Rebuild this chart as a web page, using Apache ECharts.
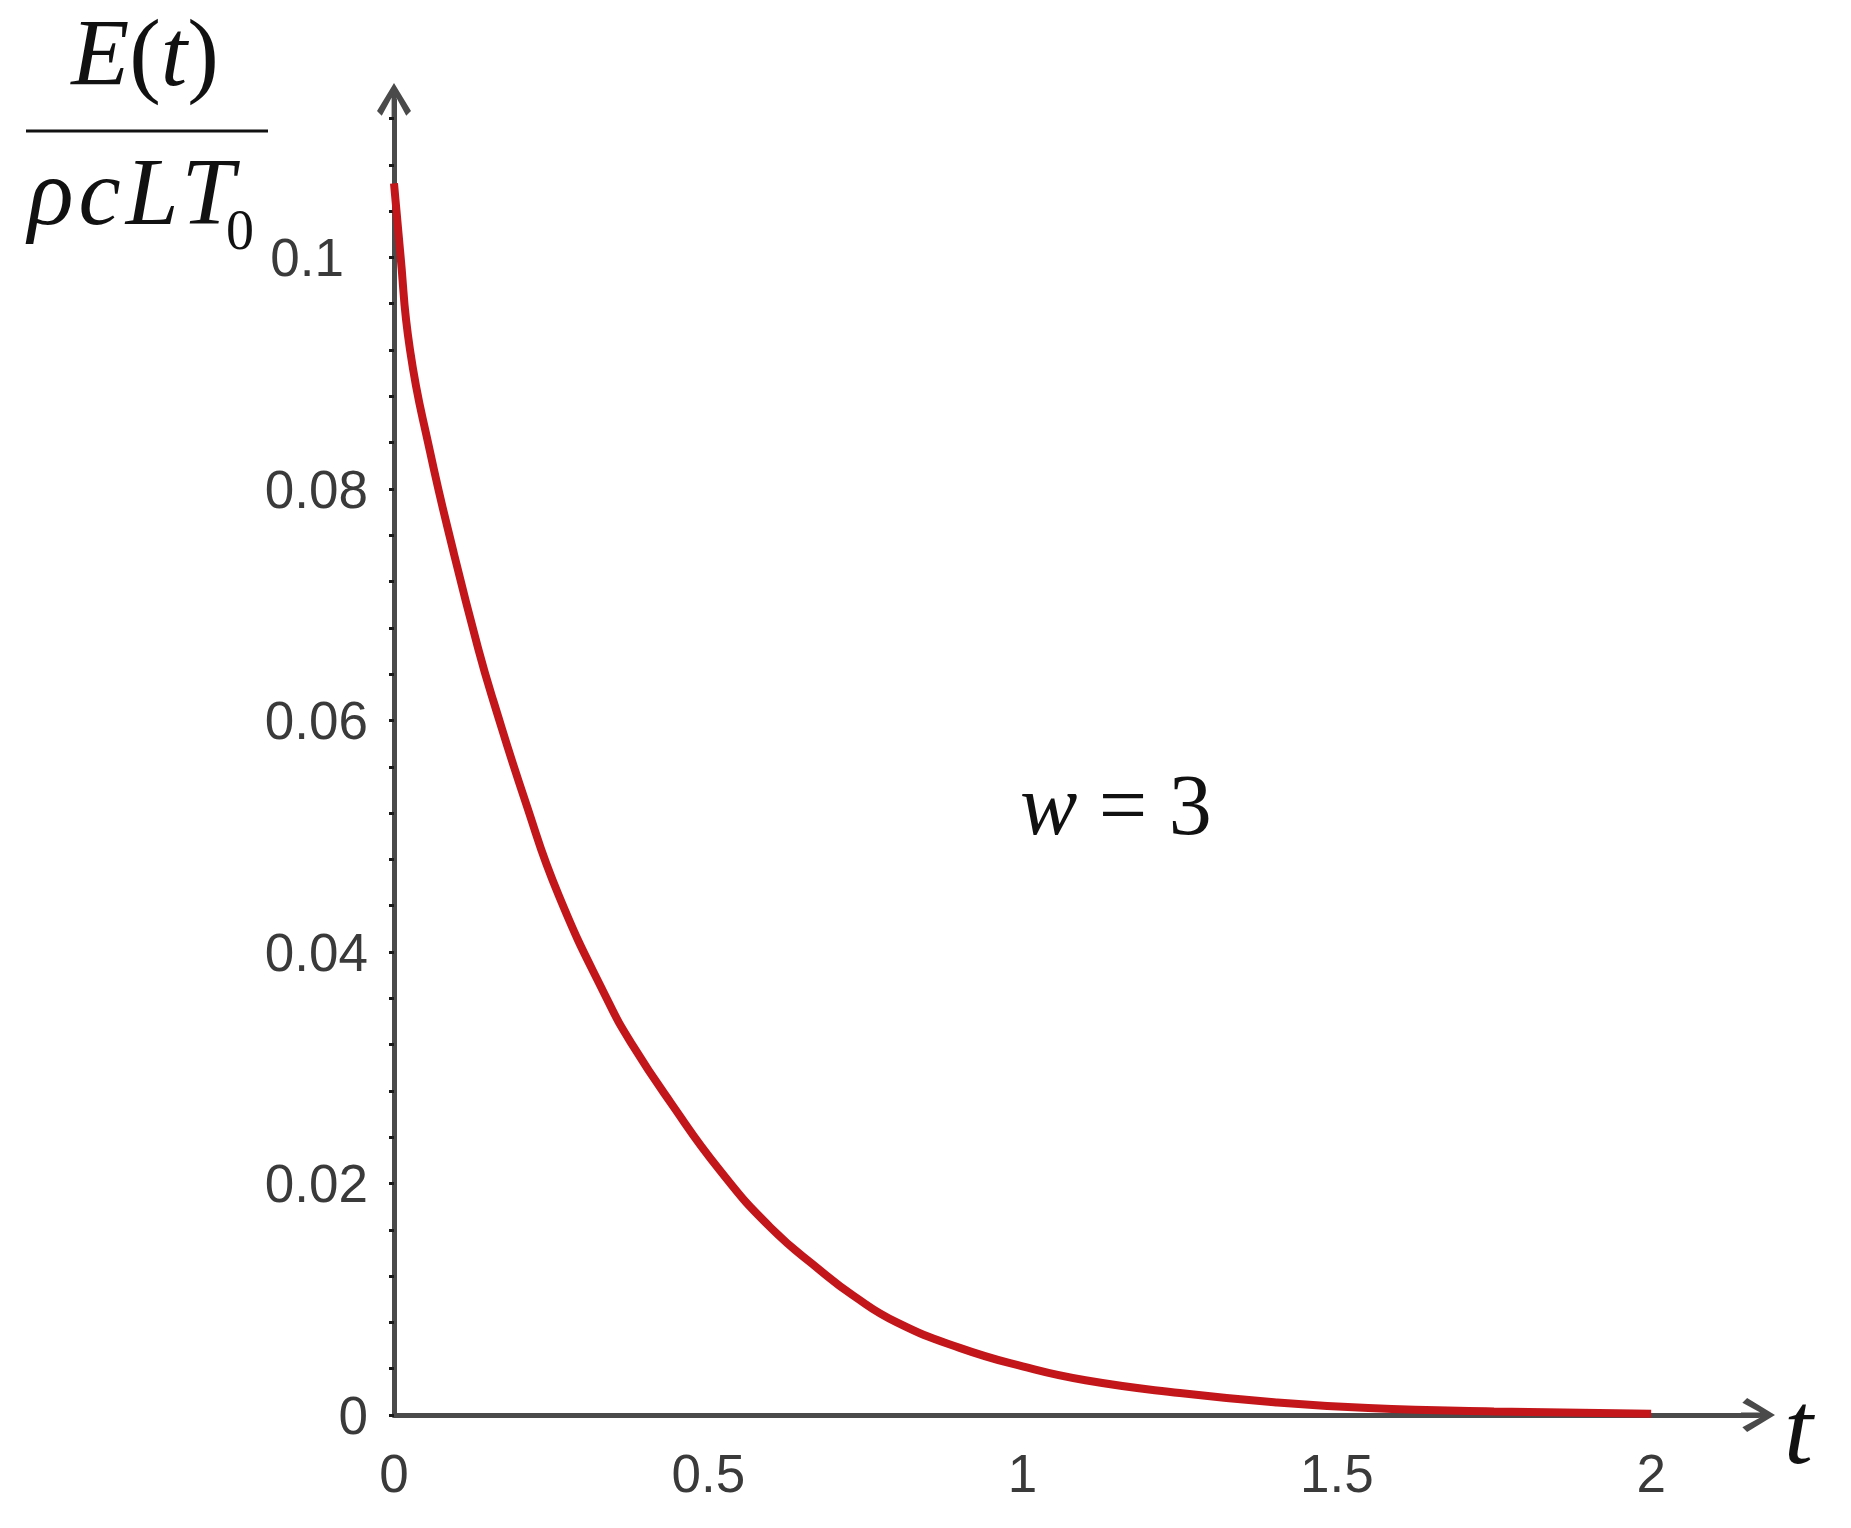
<!DOCTYPE html>
<html><head><meta charset="utf-8">
<script src="https://cdn.jsdelivr.net/npm/echarts@6/dist/echarts.min.js"></script>
<style>html,body{margin:0;padding:0;background:#fff}#c{width:1851px;height:1528px}</style>
</head><body><div id="c"></div>
<script>
// t values and normalized energy E(t)/(rho c L T0), w = 3
const tValues = [0, 0.0096, 0.0255, 0.057, 0.094, 0.134, 0.158, 0.209, 0.262, 0.341, 0.379, 0.44, 0.519, 0.599, 0.678, 0.731, 0.8, 0.9, 1.0, 1.1, 1.25, 1.4, 1.55, 1.75, 2.0];
const energyValues = [0.1064, 0.1006, 0.092, 0.0833, 0.0747, 0.0662, 0.0617, 0.0530, 0.0449, 0.0357, 0.0320, 0.0270, 0.0211, 0.0162, 0.0125, 0.0103, 0.0080, 0.0058, 0.0042, 0.0030, 0.0019, 0.0011, 0.0006, 0.0003, 0.0001];
const xTicks = [0, 0.5, 1, 1.5, 2];
const yTicks = [0, 0.02, 0.04, 0.06, 0.08, 0.1];

const numFont = '"Liberation Sans Narrow", "Arial Narrow", "Liberation Sans", Arial, sans-serif';
const mathFont = '"Liberation Serif", "Times New Roman", serif';
const axisColor = '#4a4a4a';
const labelColor = '#3a3a3a';
const arrowPath = 'path://M50,0 L100,82 L86,96 L50,30 L14,96 L0,82 Z M43,12 L57,12 L57,100 L43,100 Z';

const chart = echarts.init(document.getElementById('c'), null, {renderer: 'canvas'});
chart.setOption({
  animation: false,
  backgroundColor: '#ffffff',
  grid: {left: 394, right: 93, top: 100, bottom: 113, containLabel: false},
  xAxis: {
    type: 'value', min: 0, max: 2.17, interval: 0.5,
    splitLine: {show: false},
    axisTick: {show: false},
    axisLine: {show: true, lineStyle: {color: axisColor, width: 5}, symbol: ['none', arrowPath], symbolSize: [36, 34]},
    axisLabel: {
      showMaxLabel: false, margin: 36, fontSize: 53, fontFamily: numFont, color: labelColor,
      formatter: v => { const m = xTicks.find(k => Math.abs(k - v) < 1e-9); return m === undefined ? '' : String(m); }
    }
  },
  yAxis: {
    type: 'value', min: 0, max: 0.1136, interval: 0.004,
    splitLine: {show: false},
    axisTick: {show: true, length: 5, lineStyle: {color: '#1a1a1a', width: 3}},
    axisLine: {show: true, lineStyle: {color: axisColor, width: 5}, symbol: ['none', arrowPath], symbolSize: [36, 34]},
    axisLabel: {
      showMaxLabel: false, margin: 26, align: 'right', fontSize: 53, fontFamily: numFont, color: labelColor,
      padding: [8, 0, 0, 0],
      formatter: v => {
        const m = yTicks.find(k => Math.abs(k - v) < 1e-9);
        if (m === undefined) return '';
        return m === 0.1 ? '{p|0.1}' : String(m);
      },
      rich: {p: {padding: [0, 24, 0, 0], fontSize: 53, fontFamily: numFont, color: labelColor}}
    }
  },
  graphic: [
    {type: 'text', x: 145, y: 60, style: {
      text: '{i|E}{u|(}{i|t}{u|)}', align: 'center', verticalAlign: 'middle',
      rich: {
        i: {fontFamily: mathFont, fontStyle: 'italic', fontSize: 95, fill: '#111'},
        u: {fontFamily: mathFont, fontSize: 95, fill: '#111'}
      }
    }},
    {type: 'line', shape: {x1: 26, y1: 131, x2: 268, y2: 131}, style: {stroke: '#111', lineWidth: 3}},
    {type: 'text', x: 28, y: 199, style: {
      text: '{a|ρ}{a|c}{b|L}{c|T}', align: 'left', verticalAlign: 'middle',
      rich: {
        a: {fontFamily: mathFont, fontStyle: 'italic', fontSize: 95, fill: '#111', padding: [0, 5, 0, 0]},
        b: {fontFamily: mathFont, fontStyle: 'italic', fontSize: 95, fill: '#111', padding: [0, 3, 0, 0]},
        c: {fontFamily: mathFont, fontStyle: 'italic', fontSize: 95, fill: '#111'}
      }
    }},
    {type: 'text', x: 226, y: 234, style: {text: '0', fontFamily: mathFont, fontSize: 56, fill: '#111', align: 'left', verticalAlign: 'middle'}},
    {type: 'text', x: 1020, y: 811, style: {
      text: '{i|w}{u| = 3}', align: 'left', verticalAlign: 'middle',
      rich: {
        i: {fontFamily: mathFont, fontStyle: 'italic', fontSize: 86, fill: '#111'},
        u: {fontFamily: mathFont, fontSize: 86, fill: '#111'}
      }
    }},
    {type: 'text', x: 1784, y: 1436, style: {text: 't', fontFamily: mathFont, fontStyle: 'italic', fontSize: 104, fill: '#111', align: 'left', verticalAlign: 'middle'}}
  ],
  series: [{
    type: 'line',
    data: tValues.map((t, i) => [t, energyValues[i]]),
    showSymbol: false, smooth: 0.5, clip: false, z: 5,
    lineStyle: {color: '#c2161b', width: 8}
  }]
});
</script>
</body></html>
